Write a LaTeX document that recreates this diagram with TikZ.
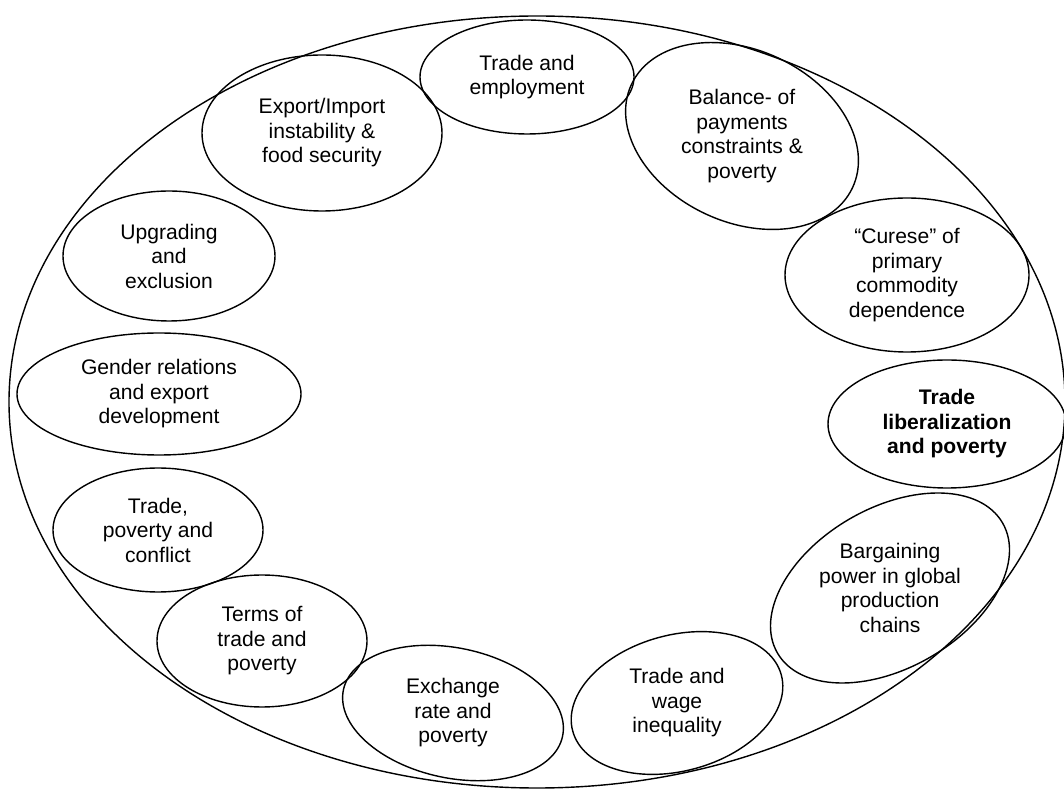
\documentclass[tikz,border=0pt]{standalone}
\usepackage{fontspec}
\setmainfont{Liberation Sans}

\tikzset{
    topic/.style={align=center, inner sep=0pt, font=\fontsize{15}{17.4}\selectfont},
    ring/.style={line width=1pt}
}

\begin{document}
\begin{tikzpicture}[x=0.025cm, y=0.025cm]
        \useasboundingbox (0,0) rectangle (1064,789);
        % outer ring
        \draw[ring] (537,387) ellipse [x radius=528, y radius=386];
        % topics, clockwise from the top
        \node[topic] (emp) at (527,712) {Trade and\\employment};
        \node[topic] (bop) at (742,653) {Balance- of\\payments\\constraints \&\\poverty};
        \node[topic] (curse) at (907,514) {“Curese” of\\primary\\commodity\\dependence};
        \node[topic, font=\fontsize{15}{17.4}\selectfont\bfseries] (lib) at (947,365) {Trade\\liberalization\\and poverty};
        \node[topic] (bargain) at (890,201) {Bargaining\\power in global\\production\\chains};
        \node[topic] (wage) at (677,86) {Trade and\\wage\\inequality};
        \node[topic] (exrate) at (453,76) {Exchange\\rate and\\poverty};
        \node[topic] (tot) at (262,148) {Terms of\\trade and\\poverty};
        \node[topic] (conflict) at (158,259) {Trade,\\poverty and\\conflict};
        \node[topic] (gender) at (159,395) {Gender relations\\and export\\development};
        \node[topic] (upgrade) at (169,533) {Upgrading\\and\\exclusion};
        \node[topic] (food) at (322,656) {Export/Import\\instability \&\\food security};
        % ellipse round each topic
        \foreach \n/\rx/\ry/\a in {emp/107/57/0, bop/122/86/-25, curse/122/77/0,
            lib/119/64/0, bargain/130/80/30, wage/108/68/15, exrate/112/65/-12,
            tot/105/66/0, conflict/105/62/0, gender/142/61/0, upgrade/106/65/0,
            food/120/78/0}
            \draw[ring, rotate around={\a:(\n)}] (\n) ellipse [x radius=\rx, y radius=\ry];
\end{tikzpicture}
\end{document}
